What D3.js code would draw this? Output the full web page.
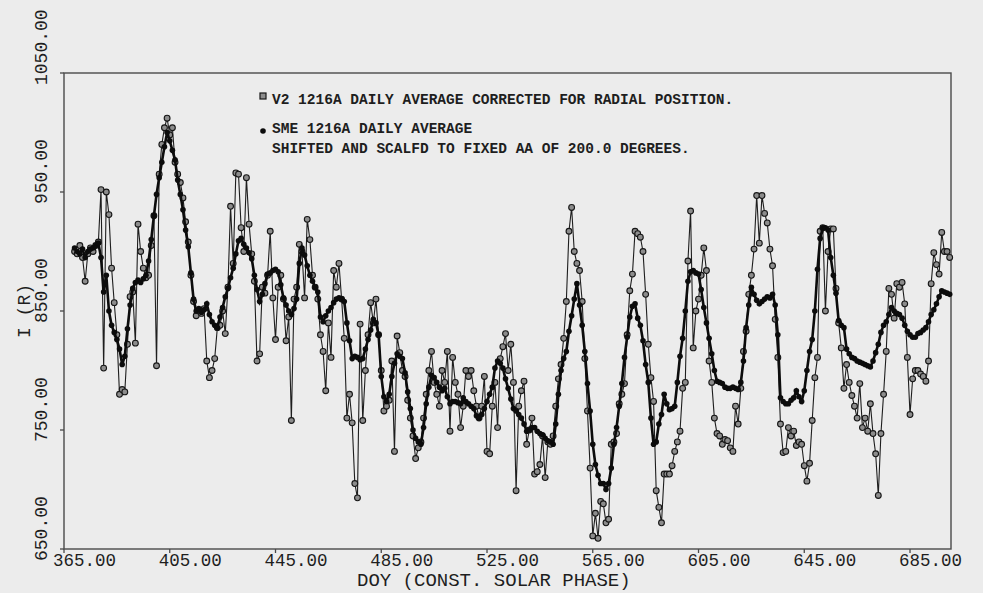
<!DOCTYPE html>
<html>
<head>
<meta charset="utf-8">
<script src="https://cdn.jsdelivr.net/npm/d3@7"></script>
<style>
  body { margin: 0; background: #ececec; }
  svg { display: block; }
  text { font-family: "Liberation Mono", "DejaVu Sans Mono", monospace; fill: #1e1e1e; }
</style>
</head>
<body>
<div id="chart"></div>
<script>
// first day of both daily series
var startDay = 369;

// SME 1216A daily average (shifted and scaled), one value per day from startDay
var smeValues = [
  903, 900, 898, 902, 895, 900, 902, 903, 905, 907,   // 369-378
  895, 866, 880, 850, 838, 832, 826, 818, 805, 812,   // 379-388
  835, 855, 869, 874, 876, 874, 877, 880, 892, 910,   // 389-398
  930, 948, 962, 975, 988, 1000, 993, 985, 977, 960,  // 399-408
  948, 935, 918, 904, 882, 860, 850, 852, 849, 851,   // 409-418
  856, 847, 841, 838, 836, 845, 853, 862, 869, 878,   // 419-428
  886, 898, 909, 911, 906, 903, 899, 894, 880, 868,   // 429-438
  858, 864, 873, 881, 882, 884, 885, 883, 872, 861,   // 439-448
  855, 850, 847, 852, 860, 890, 903, 897, 888, 880,   // 449-458
  875, 870, 866, 845, 841, 846, 850, 853, 857, 860,   // 459-468
  861, 860, 858, 840, 825, 810, 812, 811, 809, 810,   // 469-478
  818, 826, 834, 843, 840, 830, 795, 778, 774, 780,   // 479-488
  795, 806, 814, 812, 810, 798, 782, 768, 750, 743,   // 489-498
  740, 738, 752, 772, 786, 796, 794, 790, 786, 783,   // 499-508
  785, 778, 772, 774, 774, 773, 772, 777, 774, 772,   // 509-518
  770, 768, 762, 760, 763, 768, 774, 780, 786, 802,   // 519-528
  808, 806, 802, 793, 785, 776, 768, 766, 763, 760,   // 529-538
  755, 749, 750, 752, 752, 749, 747, 746, 743, 741,   // 539-548
  740, 738, 755, 780, 800, 810, 816, 833, 846, 860,   // 549-558
  873, 855, 838, 816, 789, 766, 738, 721, 712, 705,   // 559-568
  705, 700, 705, 718, 738, 752, 770, 789, 811, 828,   // 569-578
  845, 854, 856, 844, 838, 825, 805, 790, 760, 738,   // 579-588
  740, 755, 763, 780, 772, 767, 768, 770, 790, 812,   // 589-598
  827, 850, 875, 883, 884, 882, 881, 868, 853, 840,   // 599-608
  827, 814, 800, 791, 790, 789, 786, 785, 785, 786,   // 609-618
  785, 784, 790, 808, 836, 855, 870, 864, 859, 856,   // 619-628
  858, 860, 862, 861, 864, 855, 830, 777, 774, 772,   // 629-638
  772, 775, 777, 783, 778, 774, 783, 800, 816, 826,   // 639-648
  850, 885, 911, 920, 920, 918, 895, 880, 865, 842,   // 649-658
  838, 836, 818, 814, 811, 810, 808, 807, 806, 805,   // 659-668
  804, 803, 808, 815, 822, 832, 838, 841, 847, 853,   // 669-678
  850, 848, 847, 844, 838, 833, 830, 828, 828, 831,   // 679-688
  832, 834, 836, 841, 847, 851, 856, 862, 867, 866,   // 689-698
  865, 864                                            // 699-700
];

// V2 1216A daily average corrected for radial position, one value per day from startDay
var v2Values = [
  900, 898, 905, 895, 875, 898, 903, 900, 905, 908,   // 369-378
  952, 802, 950, 931, 886, 857, 830, 780, 784, 782,   // 379-388
  822, 862, 866, 823, 923, 900, 886, 878, 880, 905,   // 389-398
  930, 804, 965, 990, 1004, 1012, 998, 1004, 975, 965, // 399-408
  958, 945, 925, 908, 880, 858, 846, 850, 848, 852,   // 409-418
  808, 794, 800, 810, 836, 838, 850, 831, 870, 938,   // 419-428
  890, 966, 965, 920, 900, 962, 923, 898, 875, 808,   // 429-438
  814, 870, 865, 880, 917, 861, 826, 870, 880, 860,   // 439-448
  825, 845, 758, 860, 870, 906, 900, 861, 927, 910,   // 449-458
  880, 870, 860, 830, 816, 783, 840, 811, 884, 870,   // 459-468
  890, 860, 827, 760, 780, 756, 705, 693, 839, 758,   // 469-478
  800, 830, 857, 840, 860, 830, 800, 766, 770, 775,   // 479-488
  808, 732, 829, 815, 800, 795, 775, 760, 745, 726,   // 489-498
  735, 740, 760, 780, 800, 816, 790, 780, 770, 800,   // 499-508
  790, 816, 749, 811, 790, 780, 752, 770, 800, 795,   // 509-518
  800, 783, 770, 760, 770, 795, 732, 730, 770, 790,   // 519-528
  752, 810, 820, 831, 800, 822, 790, 699, 770, 783,   // 529-538
  791, 738, 750, 760, 713, 715, 721, 745, 710, 740,   // 539-548
  738, 745, 770, 793, 805, 827, 858, 917, 937, 900,   // 549-558
  890, 884, 858, 810, 766, 718, 661, 680, 659, 690,   // 559-568
  688, 672, 675, 738, 740, 747, 772, 780, 789, 830,   // 569-578
  867, 881, 917, 915, 912, 900, 864, 822, 794, 774,   // 579-588
  699, 685, 672, 713, 713, 713, 720, 732, 740, 749,   // 589-598
  785, 790, 892, 934, 819, 850, 860, 880, 903, 884,   // 599-608
  808, 790, 760, 747, 745, 738, 742, 741, 735, 732,   // 609-618
  770, 755, 785, 816, 833, 864, 880, 902, 947, 907,   // 619-628
  947, 932, 924, 902, 888, 843, 811, 755, 731, 732,   // 629-638
  752, 745, 749, 737, 740, 738, 720, 707, 722, 758,   // 639-648
  794, 811, 917, 920, 850, 900, 919, 919, 869, 840,   // 649-658
  819, 785, 805, 790, 779, 770, 760, 789, 752, 760,   // 659-668
  749, 772, 747, 730, 695, 747, 780, 816, 869, 864,   // 669-678
  844, 873, 870, 874, 856, 811, 763, 793, 800, 800,   // 679-688
  797, 795, 791, 808, 873, 899, 889, 881, 916, 900,   // 689-698
  900, 895                                            // 699-700
];

var xTicks = [365, 405, 445, 485, 525, 565, 605, 645, 685];
var yTicks = [650, 750, 850, 950, 1050];

var legendLines = [
  "V2 1216A DAILY AVERAGE CORRECTED FOR RADIAL POSITION.",
  "SME 1216A DAILY AVERAGE",
  "SHIFTED AND SCALFD TO FIXED AA OF 200.0 DEGREES."
];

(function() {
var width = 983, height = 593;
var plotLeft = 64, plotRight = 951, plotTop = 73, plotBottom = 549;

var svg = d3.select("#chart").append("svg")
    .attr("width", width)
    .attr("height", height);

svg.append("rect")
    .attr("width", width)
    .attr("height", height)
    .attr("fill", "#ececec");

var x = d3.scaleLinear().domain([365, 700.5]).range([plotLeft, plotRight]);
var y = d3.scaleLinear().domain([650, 1050]).range([plotBottom, plotTop]);

var sme = smeValues.map(function(v, i) { return { day: startDay + i, value: v }; });
var v2 = v2Values.map(function(v, i) { return { day: startDay + i, value: v }; });

// frame
svg.append("rect")
    .attr("x", plotLeft)
    .attr("y", plotTop)
    .attr("width", plotRight - plotLeft)
    .attr("height", plotBottom - plotTop)
    .attr("fill", "none")
    .attr("stroke", "#4a4a4a")
    .attr("stroke-width", 1.4);

// ticks
svg.selectAll(".xtick")
    .data(xTicks)
    .enter().append("line")
    .attr("x1", function(d) { return x(d); })
    .attr("x2", function(d) { return x(d); })
    .attr("y1", plotBottom)
    .attr("y2", plotBottom + 4)
    .attr("stroke", "#4a4a4a")
    .attr("stroke-width", 1.3);

svg.selectAll(".ytick")
    .data(yTicks)
    .enter().append("line")
    .attr("x1", plotLeft - 4)
    .attr("x2", plotLeft)
    .attr("y1", function(d) { return y(d); })
    .attr("y2", function(d) { return y(d); })
    .attr("stroke", "#4a4a4a")
    .attr("stroke-width", 1.3);

// tick labels
svg.selectAll(".xlabel")
    .data(xTicks)
    .enter().append("text")
    .attr("x", function(d) { return x(d) - 11; })
    .attr("y", 566)
    .attr("font-size", 17.5)
    .text(function(d) { return d3.format(".2f")(d); });

svg.selectAll(".ylabel")
    .data(yTicks)
    .enter().append("text")
    .attr("transform", function(d) { return "translate(47," + (y(d) + 12) + ") rotate(-90)"; })
    .attr("font-size", 18)
    .text(function(d) { return d3.format(".2f")(d); });

// axis titles
svg.append("text")
    .attr("x", 357)
    .attr("y", 586)
    .attr("font-size", 19)
    .text("DOY (CONST. SOLAR PHASE)");

svg.append("text")
    .attr("transform", "translate(30,338) rotate(-90)")
    .attr("font-size", 18)
    .text("I (R)");

var line = d3.line()
    .x(function(d) { return x(d.day); })
    .y(function(d) { return y(d.value); });

// V2 series: thin line, open circles
svg.append("path")
    .datum(v2)
    .attr("d", line)
    .attr("fill", "none")
    .attr("stroke", "#1e1e1e")
    .attr("stroke-width", 1.1);

svg.selectAll(".v2pt")
    .data(v2)
    .enter().append("circle")
    .attr("cx", function(d) { return x(d.day); })
    .attr("cy", function(d) { return y(d.value); })
    .attr("r", 2.9)
    .attr("fill", "#8c8c8c")
    .attr("stroke", "#161616")
    .attr("stroke-width", 1.1);

// SME series: heavy line, filled circles
svg.append("path")
    .datum(sme)
    .attr("d", line)
    .attr("fill", "none")
    .attr("stroke", "#0c0c0c")
    .attr("stroke-width", 2.6);

svg.selectAll(".smept")
    .data(sme)
    .enter().append("circle")
    .attr("cx", function(d) { return x(d.day); })
    .attr("cy", function(d) { return y(d.value); })
    .attr("r", 2.8)
    .attr("fill", "#0c0c0c");

// legend
svg.append("rect")
    .attr("x", 260)
    .attr("y", 93)
    .attr("width", 6)
    .attr("height", 6)
    .attr("fill", "#8c8c8c")
    .attr("stroke", "#161616")
    .attr("stroke-width", 1.2);

svg.append("circle")
    .attr("cx", 263)
    .attr("cy", 131)
    .attr("r", 2.8)
    .attr("fill", "#0c0c0c");

svg.selectAll(".legend")
    .data(legendLines)
    .enter().append("text")
    .attr("x", 272)
    .attr("y", function(d, i) { return [104, 133, 153][i]; })
    .attr("font-size", 14.5)
    .attr("font-weight", "bold")
    .text(function(d) { return d; });
})();
</script>
</body>
</html>
